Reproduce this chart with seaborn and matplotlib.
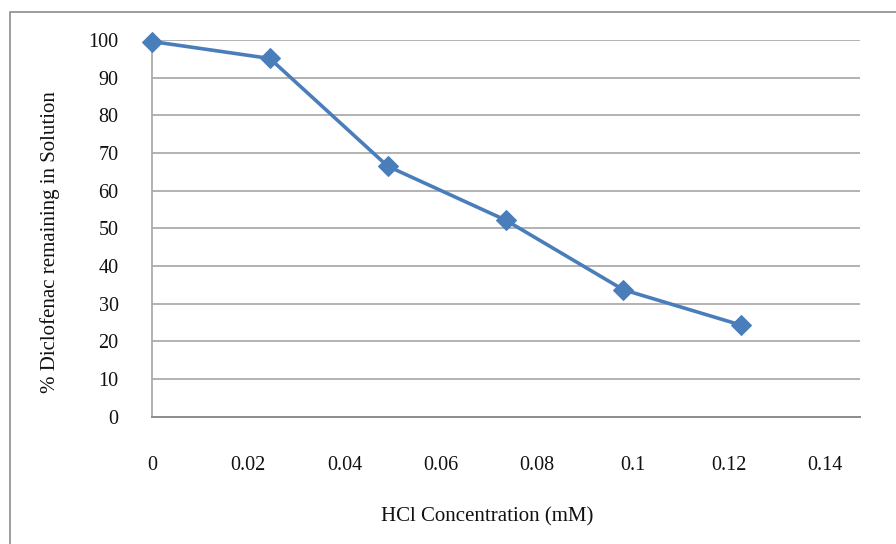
import matplotlib
matplotlib.use("Agg")
import matplotlib.pyplot as plt
import matplotlib.patches as mpatches
import seaborn as sns
import pandas as pd

# HCl concentration (mM) and percent of diclofenac left in solution
hcl_conc = [0.0, 0.0245, 0.049, 0.0735, 0.098, 0.1225]
pct_remaining = [99.6, 95.1, 66.5, 52.2, 33.7, 24.3]

x_ticks = [0, 0.02, 0.04, 0.06, 0.08, 0.1, 0.12, 0.14]
x_tick_labels = ["0", "0.02", "0.04", "0.06", "0.08", "0.1", "0.12", "0.14"]
y_ticks = [0, 10, 20, 30, 40, 50, 60, 70, 80, 90, 100]

sns.set_theme(style="white")
plt.rcParams["font.family"] = ["Liberation Serif", "DejaVu Serif"]

df = pd.DataFrame({"HCl": hcl_conc, "Remaining": pct_remaining})

fig = plt.figure(figsize=(8.96, 5.44), dpi=100)
ax_l, ax_b = 152 / 896, 1 - 416.7 / 544
ax_w, ax_h = (860 - 152) / 896, (416.7 - 40) / 544
ax = fig.add_axes([ax_l, ax_b, ax_w, ax_h])

line_color = "#4a7ebb"
sns.lineplot(data=df, x="HCl", y="Remaining", ax=ax, color=line_color,
             linewidth=2.6, marker="D", markersize=10.5,
             markeredgecolor=line_color, markerfacecolor=line_color,
             clip_on=False, zorder=5)

ax.set_xlim(0, 0.1472)
ax.set_ylim(0, 100)
ax.set_xticks(x_ticks)
ax.set_xticklabels(x_tick_labels)
ax.set_yticks(y_ticks)
ax.tick_params(axis="x", length=0, pad=28, labelsize=14.5, colors="#111111")
ax.tick_params(axis="y", length=0, pad=24, labelsize=14.5, colors="#111111")

ax.yaxis.grid(True, color="#a6a6a6", linewidth=1.2)
ax.xaxis.grid(False)
ax.set_axisbelow(True)

for side in ("top", "right"):
    ax.spines[side].set_visible(False)
ax.spines["left"].set_color("#a6a6a6")
ax.spines["left"].set_linewidth(1.2)
ax.spines["bottom"].set_color("#8c8c8c")
ax.spines["bottom"].set_linewidth(1.4)

ax.set_xlabel("HCl Concentration (mM)", fontsize=15, color="#111111")
ax.set_ylabel("% Diclofenac remaining in Solution", fontsize=15, color="#111111")

# place axis titles in pixel positions of the chart
def to_axes(px, py):
    fx, fy = px / 896, 1 - py / 544
    return (fx - ax_l) / ax_w, (fy - ax_b) / ax_h

ax.xaxis.set_label_coords(*to_axes(487, 517))
ax.xaxis.label.set_va("center")
ax.yaxis.set_label_coords(*to_axes(50, 242))
ax.yaxis.label.set_va("center")

# outer chart frame
frame = mpatches.Rectangle((10 / 896, -0.05), 1.0, 1 - 12 / 544 + 0.05,
                           transform=fig.transFigure, fill=False,
                           edgecolor="#8c8c8c", linewidth=1.2, zorder=0)
fig.patches.append(frame)

fig.savefig("out.png", dpi=100)
